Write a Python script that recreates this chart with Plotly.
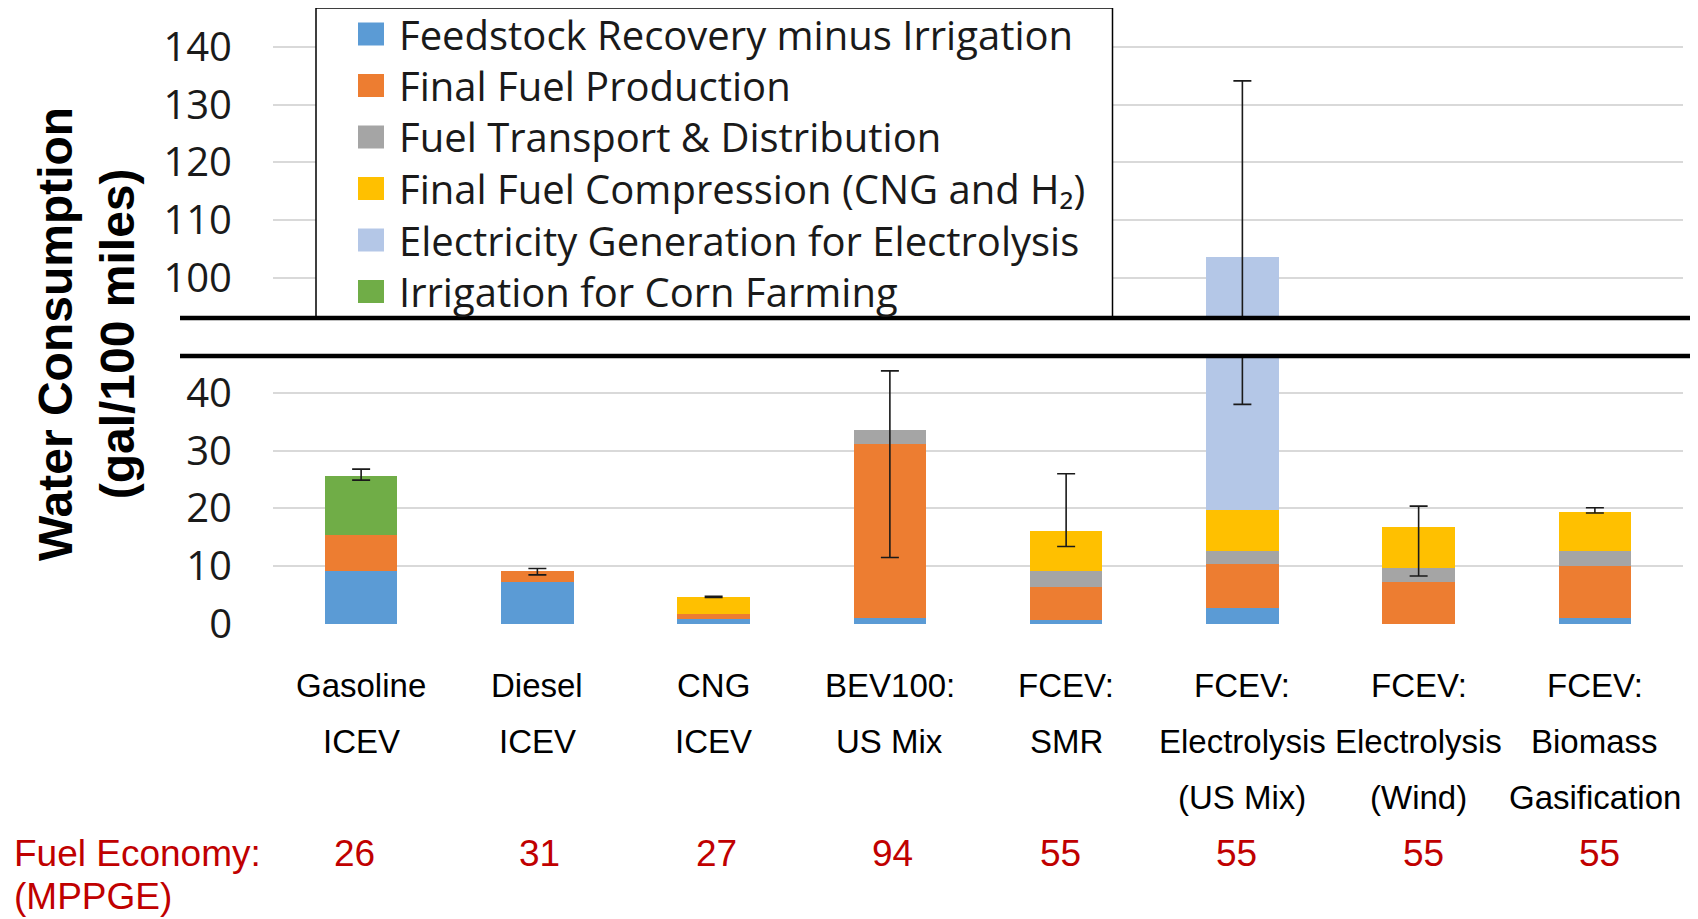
import plotly.graph_objects as go

# ---------------- data ----------------
categories = ["Gasoline<br>ICEV", "Diesel<br>ICEV", "CNG<br>ICEV", "BEV100:<br>US Mix",
              "FCEV:<br>SMR", "FCEV:<br>Electrolysis<br>(US Mix)", "FCEV:<br>Electrolysis<br>(Wind)",
              "FCEV:<br>Biomass<br>Gasification"]

series_names = ["Feedstock Recovery minus Irrigation", "Final Fuel Production",
                "Fuel Transport & Distribution", "Final Fuel Compression (CNG and H₂)",
                "Electricity Generation for Electrolysis", "Irrigation for Corn Farming"]
series_colors = ["#5B9BD5", "#ED7D31", "#A5A5A5", "#FFC000", "#B4C7E7", "#70AD47"]

feedstock = [9.1, 7.2, 0.8, 1.1, 0.7, 2.7, 0.0, 1.1]
fuel_production = [6.3, 2.0, 0.9, 30.1, 5.7, 7.6, 7.2, 8.9]
transport = [0.0, 0.0, 0.0, 2.3, 2.7, 2.3, 2.5, 2.6]
compression = [0.0, 0.0, 2.9, 0.0, 7.0, 7.2, 7.0, 6.7]
electricity = [0.0, 0.0, 0.0, 0.0, 0.0, 83.8, 0.0, 0.0]
irrigation = [10.2, 0.0, 0.0, 0.0, 0.0, 0.0, 0.0, 0.0]
series_values = [feedstock, fuel_production, transport, compression, electricity, irrigation]

err_low = [24.9, 8.5, 4.6, 11.5, 13.4, 38.0, 8.3, 19.2]
err_high = [26.8, 9.6, 4.8, 43.8, 26.0, 134.1, 20.4, 20.1]

fuel_economy = ["26", "31", "27", "94", "55", "55", "55", "55"]

bottom_ticks = [0, 10, 20, 30, 40]
top_ticks = [100, 110, 120, 130, 140]

# ---------------- layout geometry (screen pixels) ----------------
OFF = 8                      # page body margin
SCREEN_W, SCREEN_H = 1698, 919
W, H = SCREEN_W - OFF, SCREEN_H - OFF
L, R, T, B = 273, 1683, 8, 624   # plot area on screen
PW, PH = R - L, B - T
fe_xshift = [-7, 2, 3, 3, -6, -6, 5, 5]   # small label nudges, as in the original


def xp(px):
    return (px - L) / PW


def yp(py):
    return (B - py) / PH


fig = go.Figure()

totals = [sum(v[i] for v in series_values) for i in range(len(categories))]

for name, color, vals in zip(series_names, series_colors, series_values):
    for ax in ["y", "y2"]:
        fig.add_trace(go.Bar(x=categories, y=vals, name=name, marker=dict(color=color, line=dict(width=0)),
                             yaxis=ax, xaxis="x", showlegend=False, hoverinfo="skip"))

for ax in ["y", "y2"]:
    fig.add_trace(go.Scatter(
        x=categories, y=totals, mode="markers", yaxis=ax, xaxis="x", showlegend=False,
        marker=dict(size=1, color="rgba(0,0,0,0)"), hoverinfo="skip",
        error_y=dict(type="data", symmetric=False,
                     array=[h - t for h, t in zip(err_high, totals)],
                     arrayminus=[t - l for t, l in zip(totals, err_low)],
                     color="#1a1a1a", thickness=1.6, width=9)))

tick_font = dict(family="Open Sans, DejaVu Sans, sans-serif", size=40, color="#1a1a1a")

fig.update_layout(
    template="none",
    width=W, height=H,
    margin=dict(l=L - OFF, r=SCREEN_W - R, t=T - OFF, b=SCREEN_H - B, pad=0),
    paper_bgcolor="white", plot_bgcolor="white",
    barmode="stack", bargap=0.59,
    xaxis=dict(anchor="y", showgrid=False, zeroline=False, showline=False, ticks="", automargin=False,
               showticklabels=False),
    yaxis=dict(domain=[0, yp(356)], range=[0, (B - 356) / 5.78], tickvals=bottom_ticks, automargin=False,
               showgrid=True, gridcolor="#D9D9D9", gridwidth=2, zeroline=False, showline=False,
               ticks="", tickfont=tick_font, ticklabelstandoff=40),
    yaxis2=dict(domain=[yp(318), 1], range=[100 - (318 - 277.8) / 5.775, 140 + (46.8 - T) / 5.775],
                tickvals=top_ticks, anchor="x", automargin=False,
                showgrid=True, gridcolor="#D9D9D9", gridwidth=2, zeroline=False, showline=False,
                ticks="", tickfont=tick_font, ticklabelstandoff=40),
)

shapes = []
annotations = []

# legend box
shapes.append(dict(type="rect", xref="paper", yref="paper", x0=xp(316), x1=xp(1112.5), y0=yp(318), y1=yp(8),
                   line=dict(color="black", width=1.5), fillcolor="white", layer="above"))
row_y = [34, 85.5, 137, 188.5, 240, 291.5]
for name, color, ry in zip(series_names, series_colors, row_y):
    shapes.append(dict(type="rect", xref="paper", yref="paper", x0=xp(358), x1=xp(384),
                       y0=yp(ry + 11.5), y1=yp(ry - 11.5), line=dict(width=0), fillcolor=color, layer="above"))
    annotations.append(dict(text=name, xref="paper", yref="paper", x=xp(397), y=yp(ry),
                            xanchor="left", yanchor="middle", showarrow=False,
                            font=dict(family="Open Sans, DejaVu Sans, sans-serif", size=40, color="#1a1a1a")))

# axis break lines
for by in [318, 356]:
    shapes.append(dict(type="line", xref="paper", yref="paper", x0=xp(180), x1=xp(1700), y0=yp(by), y1=yp(by),
                       line=dict(color="black", width=4.5), layer="above"))

# category labels (one annotation per line, to match the original line spacing)
cat_font = dict(family="Liberation Sans, Arial, sans-serif", size=33, color="black")
line_y = [685, 741, 797]
for cat in categories:
    for li, part in enumerate(cat.split("<br>")):
        annotations.append(dict(text=part, xref="x", yref="paper", x=cat, y=yp(line_y[li]),
                                xanchor="center", yanchor="middle", showarrow=False, font=cat_font))

# y-axis title
annotations.append(dict(text="Water Consumption<br>(gal/100 miles)", xref="paper", yref="paper",
                        x=xp(86), y=yp(334), textangle=-90, xanchor="center", yanchor="middle", showarrow=False,
                        font=dict(family="Liberation Sans, Arial, sans-serif", size=48, color="black",
                                  weight="bold")))

# fuel economy row
red = "#C00000"
fe_font = dict(family="Liberation Sans, Arial, sans-serif", size=37, color=red)
annotations.append(dict(text="Fuel Economy:", xref="paper", yref="paper", x=xp(12), y=yp(853),
                        xanchor="left", yanchor="middle", showarrow=False, font=fe_font))
annotations.append(dict(text="(MPPGE)", xref="paper", yref="paper", x=xp(12), y=yp(896),
                        xanchor="left", yanchor="middle", showarrow=False, font=fe_font))
for cat, fe, dx in zip(categories, fuel_economy, fe_xshift):
    annotations.append(dict(text=fe, xref="x", yref="paper", x=cat, y=yp(853), xshift=dx,
                            xanchor="center", yanchor="middle", showarrow=False, font=fe_font))

fig.update_layout(shapes=shapes, annotations=annotations)

fig.write_html("out.html")
